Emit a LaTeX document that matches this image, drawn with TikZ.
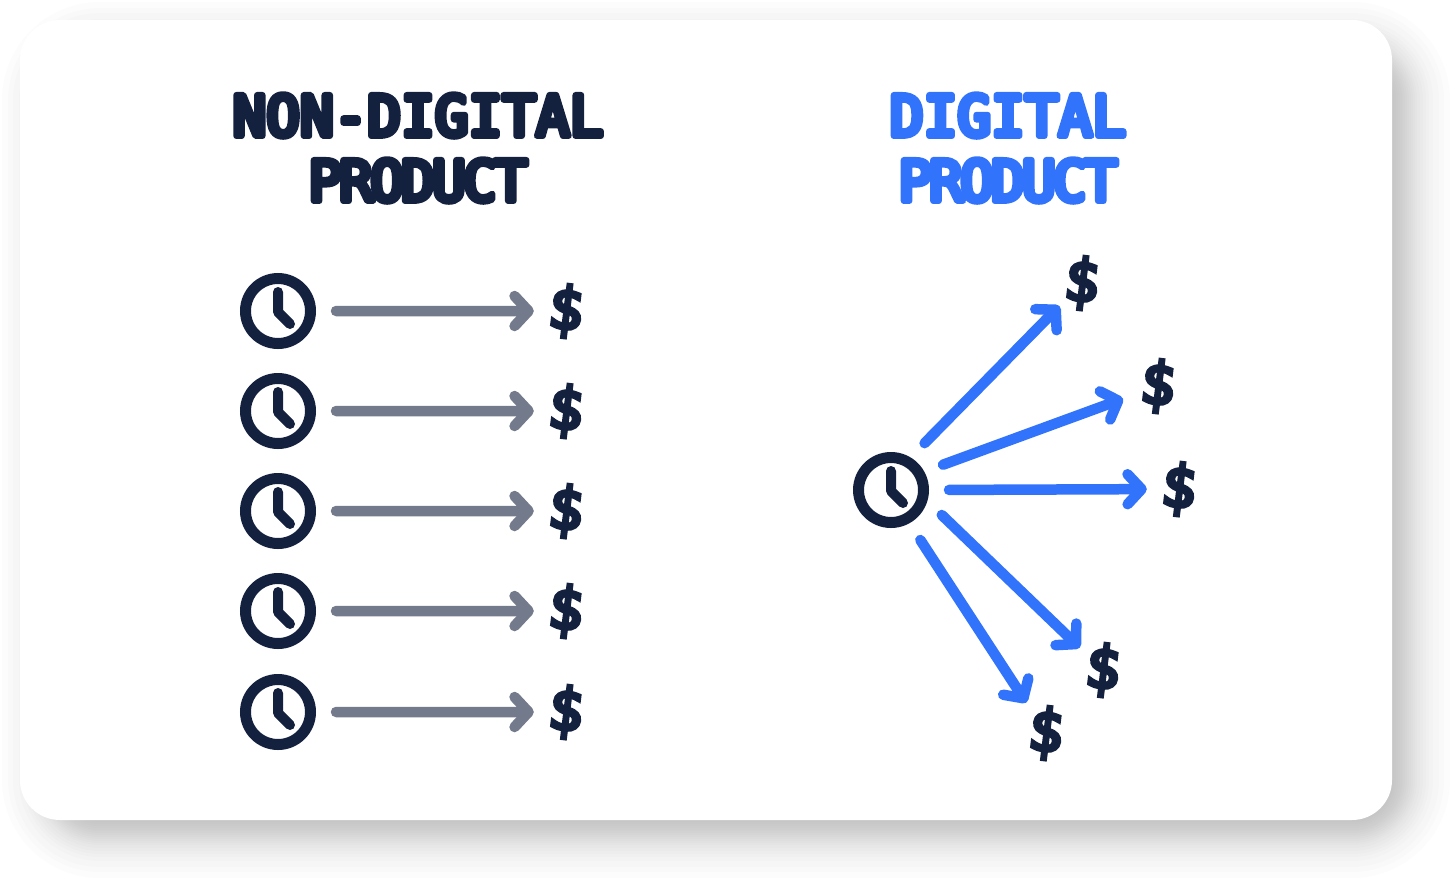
\documentclass[tikz,border=0pt]{standalone}
\usepackage{fontspec}
\usetikzlibrary{arrows.meta}
\newfontfamily\handfont[RawFeature={embolden=11}]{DejaVu Sans Mono}
\newfontfamily\dollarfont[RawFeature={embolden=7}]{DejaVu Sans Mono}
\newcommand{\roundink}{\special{pdf:code 1 j 1 J}}
\newcommand{\tightline}[1]{{\addfontfeature{LetterSpace=-5}#1}}
\definecolor{inkblue}{HTML}{13213F}
\definecolor{brightblue}{HTML}{3273FB}
\definecolor{arrowgrey}{HTML}{737A8C}
\tikzset{
  clocknode/.style={circle, draw=inkblue, line width=11pt, minimum size=65pt, inner sep=0pt},
  clockhand/.style={draw=inkblue, line width=10pt, line cap=round, line join=round},
  dollarnode/.style={circle, minimum size=64pt, inner sep=0pt, text=inkblue, rotate=-7,
    font=\dollarfont\fontsize{58}{58}\selectfont},
  titlenode/.style={align=center, inner sep=0pt, font=\handfont\fontsize{56}{65}\selectfont},
  flowarrow/.style={line width=10.5pt, line cap=round, shorten <=20pt,
    -{Straight Barb[round, length=14pt, width=30pt]}},
}
\begin{document}
\begin{tikzpicture}[x=1pt, y=-1pt]
  \useasboundingbox (0,0) rectangle (1456,884);

  % Soft shadow under the card
  \foreach \d in {58,52,47,41,37,34,31,28,25,23,21,19,17,15,13,11,10,8,6,4,2,0}
    \fill[black, opacity=0.011, rounded corners={(40+\d)*1pt}] (60-\d,60-\d) rectangle (1392+\d,820+\d);
  % Card
  \fill[white, rounded corners=40pt] (20,20) rectangle (1392,820);

  % Titles
  \node[titlenode, text=inkblue] (titleLeft) at (418,148) {\roundink NON-DIGITAL\\\tightline{PRODUCT}};
  \node[titlenode, text=brightblue] (titleRight) at (1008,148) {\roundink DIGITAL\\\tightline{PRODUCT}};

  % Left column: one clock, one arrow, one dollar per row
  \foreach \i/\y in {1/311,2/411,3/511,4/611,5/712} {
    \node[clocknode] (clock\i) at (278,\y) {};
    \draw[clockhand] (278,\y-19) -- (278,\y+1) -- (290,\y+13);
    \node[dollarnode] (dollar\i) at (566,\y) {\$};
    \draw[flowarrow, arrowgrey] (clock\i) -- (dollar\i);
  }

  % Right side: one clock fanning out to five dollars
  \node[clocknode] (clockFan) at (891,490) {};
  \draw[clockhand] (891,471) -- (891,491) -- (903,503);
  \foreach \n/\a/\x/\y/\s in {a/59/1082/283/0, b/29/1158/386/5, c/0/1179/489/0, d/-17/1103/670/0, e/-61/1046/733/4} {
    \node[dollarnode] (dollar\n) at (\x,\y) {\$};
    \draw[flowarrow, brightblue, shorten >=\s pt] (clockFan.\a) -- (dollar\n);
  }
\end{tikzpicture}
\end{document}
